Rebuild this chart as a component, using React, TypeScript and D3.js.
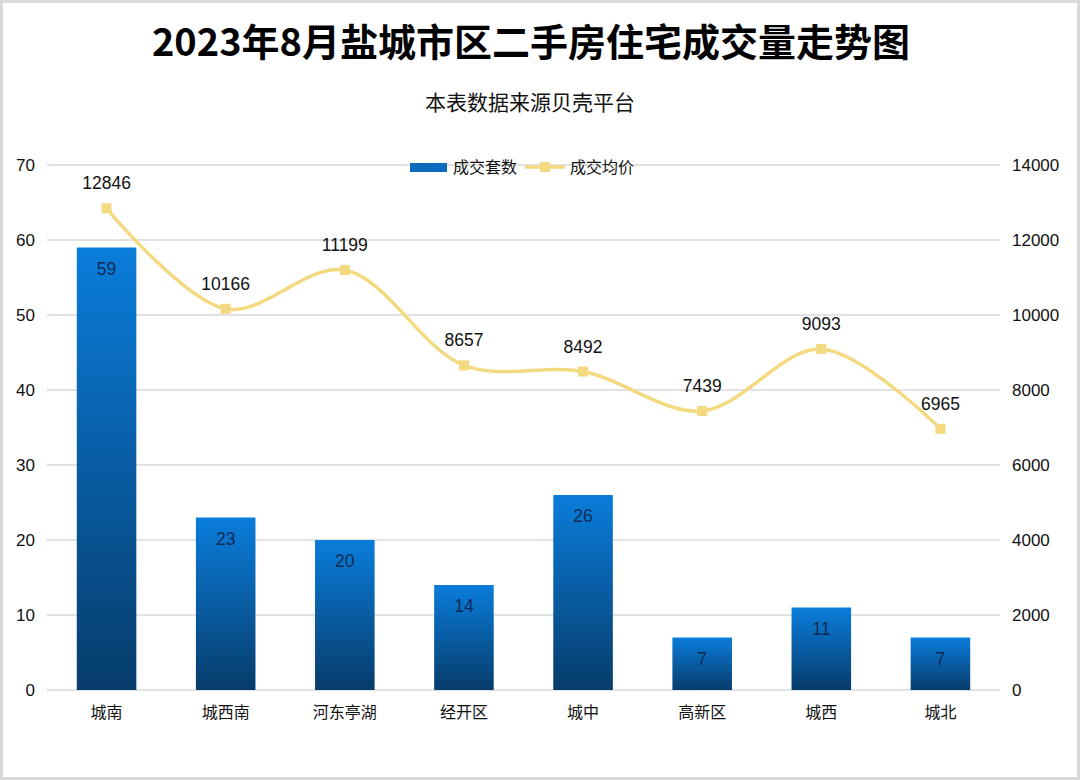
import React from "react";
import * as d3 from "d3";

const categories = ["城南", "城西南", "河东亭湖", "经开区", "城中", "高新区", "城西", "城北"];
const deals = [59, 23, 20, 14, 26, 7, 11, 7];
const prices = [12846, 10166, 11199, 8657, 8492, 7439, 9093, 6965];
const leftTicks = [0, 10, 20, 30, 40, 50, 60, 70];
const rightTicks = [0, 2000, 4000, 6000, 8000, 10000, 12000, 14000];

const W = 1080;
const H = 780;
const M = { left: 47, right: 1000, top: 165, bottom: 690 };
const FONT = "'Liberation Sans', 'Noto Sans CJK SC', sans-serif";
const CJK = "'Noto Sans CJK SC', 'Liberation Sans', sans-serif";
const LINE = "#f3d97f";

export default function App() {
  const x = d3.scaleBand<string>().domain(categories).range([M.left, M.right]).paddingInner(0.5).paddingOuter(0.25);
  const yL = d3.scaleLinear().domain([0, 70]).range([M.bottom, M.top]);
  const yR = d3.scaleLinear().domain([0, 14000]).range([M.bottom, M.top]);
  const cx = (c: string) => (x(c) as number) + x.bandwidth() / 2;
  const pts: [number, number][] = prices.map((p, i) => [cx(categories[i]), yR(p)]);
  const line = d3.line().curve(d3.curveCatmullRom.alpha(0.5))(pts) as string;

  return (
    <svg width={W} height={H} style={{ position: "absolute", left: 0, top: 0, background: "#fff" }}>
      <defs>
        <linearGradient id="barGrad" x1="0" y1="0" x2="0" y2="1">
          <stop offset="0" stopColor="#0a7ddb" />
          <stop offset="1" stopColor="#073c6b" />
        </linearGradient>
      </defs>
      <rect x={1.5} y={1.5} width={W - 3} height={H - 3} fill="#fff" stroke="#d9d9d9" strokeWidth={3} />
      <text x={531} y={56} textAnchor="middle" fontFamily={CJK} fontWeight={700} fontSize={38} fill="#000">
        2023年8月盐城市区二手房住宅成交量走势图
      </text>
      <text x={530} y={110} textAnchor="middle" fontFamily={CJK} fontSize={21} fill="#111">
        本表数据来源贝壳平台
      </text>
      {leftTicks.map((t) => (
        <line key={"g" + t} x1={M.left} x2={M.right} y1={yL(t)} y2={yL(t)} stroke="#d9d9d9" strokeWidth={1.5} />
      ))}
      {leftTicks.map((t) => (
        <text key={"l" + t} x={35} y={yL(t) + 6} textAnchor="end" fontFamily={FONT} fontSize={17} fill="#111">
          {t}
        </text>
      ))}
      {rightTicks.map((t) => (
        <text key={"r" + t} x={1012} y={yR(t) + 6} textAnchor="start" fontFamily={FONT} fontSize={17} fill="#111">
          {t}
        </text>
      ))}
      {categories.map((c, i) => (
        <g key={c}>
          <rect x={x(c)} y={yL(deals[i])} width={x.bandwidth()} height={M.bottom - yL(deals[i])} fill="url(#barGrad)" />
          <text x={cx(c)} y={yL(deals[i]) + 27} textAnchor="middle" fontFamily={FONT} fontSize={17.5} fill="#102a55">
            {deals[i]}
          </text>
          <text x={cx(c)} y={718} textAnchor="middle" fontFamily={CJK} fontSize={16} fill="#111">
            {c}
          </text>
        </g>
      ))}
      <path d={line} fill="none" stroke={LINE} strokeWidth={3.5} />
      {pts.map((p, i) => (
        <g key={"p" + i}>
          <rect x={p[0] - 5} y={p[1] - 5} width={10} height={10} fill={LINE} />
          <text x={p[0]} y={p[1] - 19} textAnchor="middle" fontFamily={FONT} fontSize={17.5} fill="#111">
            {prices[i]}
          </text>
        </g>
      ))}
      <g>
        <rect x={410} y={163} width={37} height={9} fill="#0b6bbd" />
        <text x={453} y={173} fontFamily={CJK} fontSize={16} fill="#111">成交套数</text>
        <line x1={525} x2={565} y1={167} y2={167} stroke={LINE} strokeWidth={3.5} />
        <rect x={540} y={162} width={10} height={10} fill={LINE} />
        <text x={570} y={173} fontFamily={CJK} fontSize={16} fill="#111">成交均价</text>
      </g>
    </svg>
  );
}
